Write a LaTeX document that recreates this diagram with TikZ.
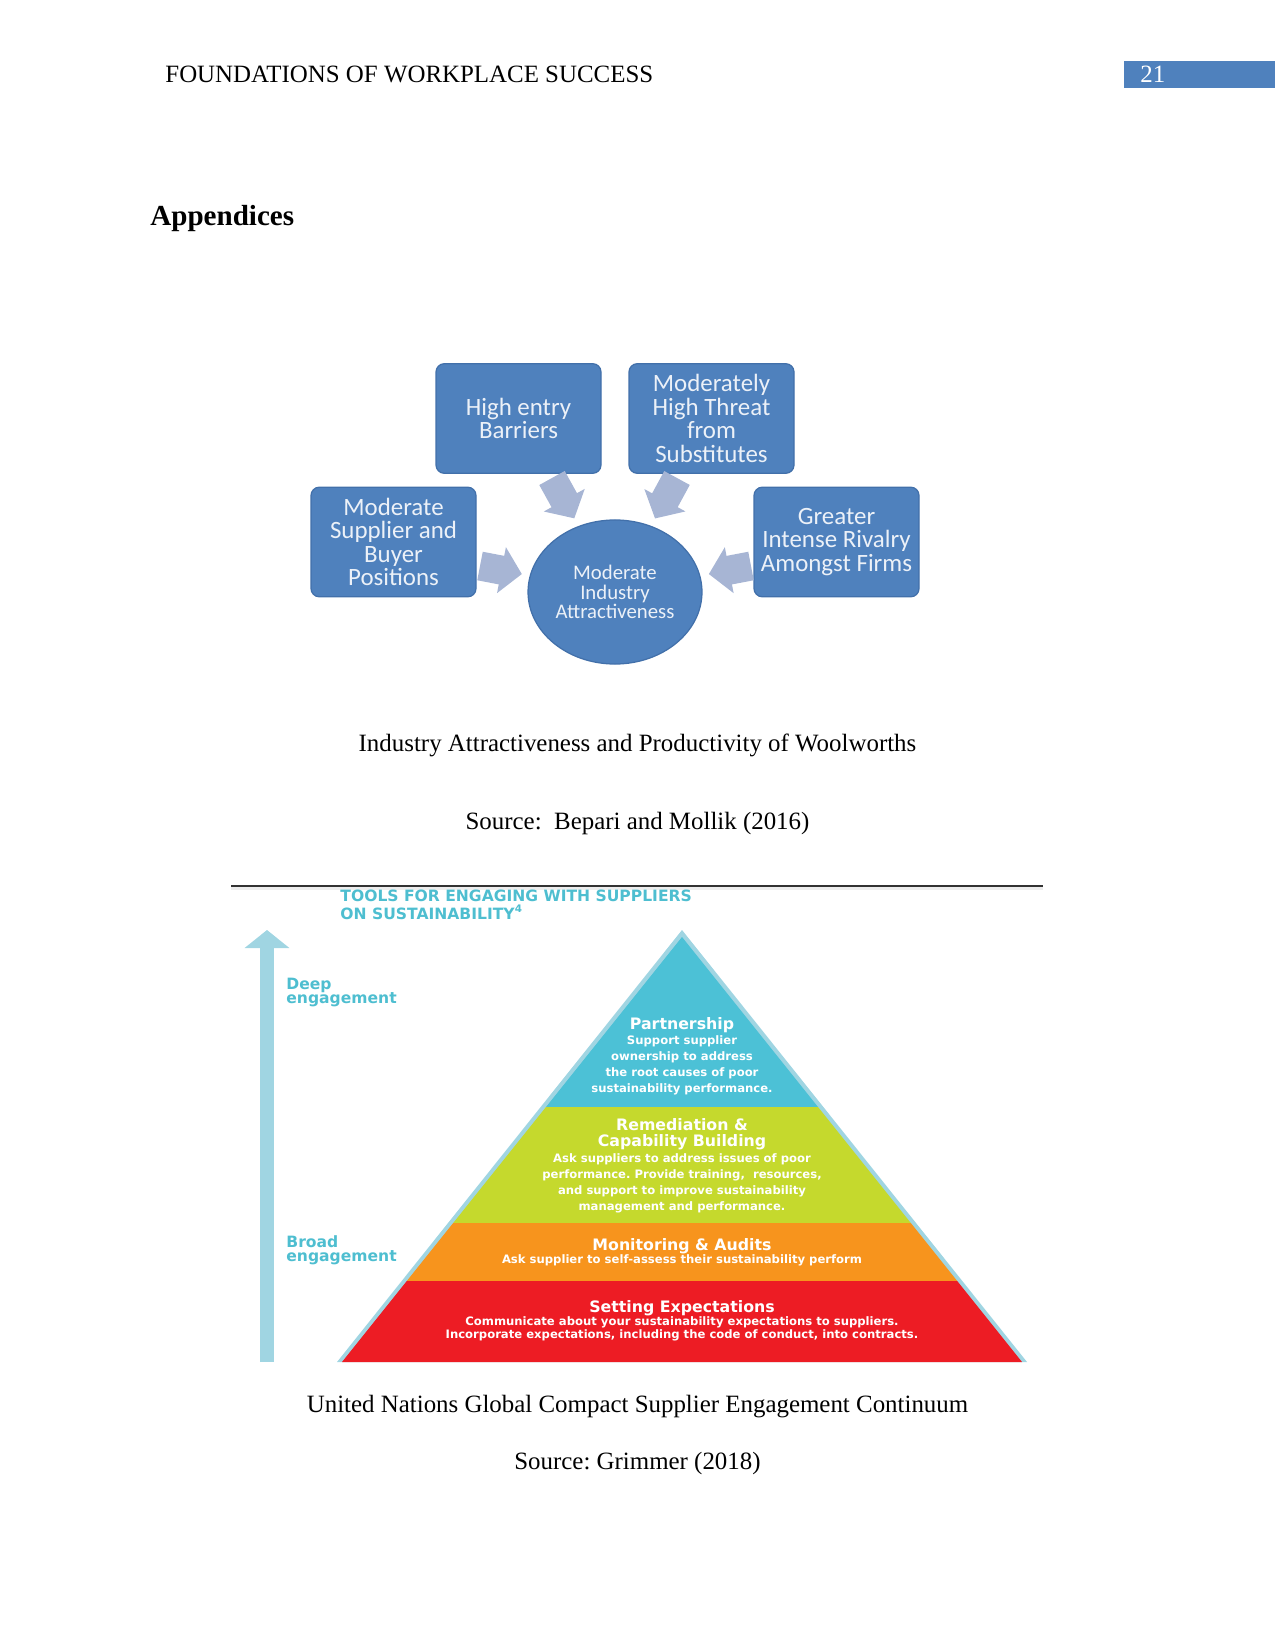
\documentclass[tikz,border=0pt]{standalone}
\usepackage{fontspec}
\setmainfont{Liberation Serif}
\newfontfamily\calfont{Carlito}
\newfontfamily\ungcfont{DejaVu Sans}
\usetikzlibrary{shapes.geometric,arrows.meta,calc}
\setlength{\lineskiplimit}{-5pt}
\frenchspacing

\definecolor{boxblue}{RGB}{79,129,189}
\definecolor{boxedge}{RGB}{66,112,170}
\definecolor{boxtext}{RGB}{236,241,248}
\definecolor{arrowgrey}{RGB}{167,181,212}
\definecolor{rimblue}{RGB}{160,213,226}
\definecolor{labelteal}{RGB}{78,190,208}
\definecolor{tierteal}{RGB}{76,193,214}
\definecolor{tiergreen}{RGB}{197,217,45}
\definecolor{tierorange}{RGB}{247,148,29}
\definecolor{tierred}{RGB}{237,28,36}
\definecolor{rulegrey}{RGB}{50,50,50}

\tikzset{
    forcebox/.style={rectangle, rounded corners=4pt, fill=boxblue, draw=boxedge, line width=0.6pt,
        minimum width=79.5pt, minimum height=52.8pt, inner sep=1pt, align=center, text=boxtext,
        font=\calfont\fontsize{12}{11.3}\selectfont},
    hubnode/.style={ellipse, fill=boxblue, draw=boxedge, line width=0.6pt,
        minimum width=83.8pt, minimum height=69.4pt, inner sep=0pt, align=center, text=boxtext,
        font=\calfont\fontsize{10}{9.4}\selectfont},
    fatlink/.style={draw=arrowgrey, line width=14pt, -{Triangle[width=22pt,length=10pt]}},
    caption/.style={anchor=base, inner sep=0pt, font=\fontsize{12}{14}\selectfont},
    tiertitle/.style={anchor=base, inner sep=0pt, align=center, text=white,
        font=\ungcfont\bfseries\fontsize{7.6}{7.7}\selectfont},
    tierbody/.style={anchor=base, inner sep=0pt, align=center, text=white,
        font=\ungcfont\bfseries\fontsize{5.6}{7.6}\selectfont},
    tealnote/.style={anchor=base west, inner sep=0pt, align=left, text=labelteal,
        font=\ungcfont\bfseries\fontsize{7.5}{6.3}\selectfont},
}

\begin{document}
\begin{tikzpicture}[x=0.4818pt,y=-0.4818pt]
    \useasboundingbox (0,0) rectangle (1275,1651);
    % running head
    \node[anchor=base west, inner sep=0pt, font=\fontsize{12}{14}\selectfont] (runhead) at (165,83) {FOUNDATIONS OF WORKPLACE SUCCESS};
    \fill[boxblue] (1124,61) rectangle (1275,88);
    \node[anchor=base west, inner sep=0pt, text=white, font=\fontsize{12}{14}\selectfont] (pageno) at (1140,83) {21};
    \node[anchor=base west, inner sep=0pt, font=\bfseries\fontsize{14}{16}\selectfont] (appx) at (150,226) {Appendices};

    % five forces
    \node[hubnode] (ind) at (615,592) {Moderate\\Industry\\Attractiveness};
    \node[forcebox] (entry) at (518.5,418.5) {High entry\\Barriers};
    \node[forcebox] (subst) at (711.5,418.5) {Moderately\\High Threat\\from\\Substitutes};
    \node[forcebox] (supbuy) at (393.5,542) {Moderate\\Supplier and\\Buyer\\Positions};
    \node[forcebox] (rival) at (836.5,542) {Greater\\Intense Rivalry\\Amongst Firms};
    \coordinate (tailA) at (552,478);
    \coordinate (tailB) at (677,478);
    \coordinate (tailC) at (480,566);
    \coordinate (tailD) at (751,566);
    \draw[fatlink] (tailA) -- ($(tailA)!0.354!(ind.center)$);
    \draw[fatlink] (tailB) -- ($(tailB)!0.355!(ind.center)$);
    \draw[fatlink] (tailC) -- ($(tailC)!0.31!(ind.center)$);
    \draw[fatlink] (tailD) -- ($(tailD)!0.31!(ind.center)$);
    \node[caption] (capA) at (637.5,751) {Industry Attractiveness and Productivity of Woolworths};
    \node[caption] (srcA) at (637.5,829) {Source:\ \ Bepari and Mollik (2016)};

    % supplier engagement pyramid
    \draw[line width=1.4pt, black!7] (231,888.5) -- (1043,888.5);
    \draw[line width=1.2pt, rulegrey] (231,886) -- (1043,886);
    % multi-line nodes sit on their last baseline
    \node[tealnote, font=\ungcfont\bfseries\fontsize{7.5}{8.2}\selectfont] (tools) at (340,919)
        {TOOLS FOR ENGAGING WITH SUPPLIERS\\ON SUSTAINABILITY\textsuperscript{\tiny 4}};
    \coordinate (broadbase) at (267,1362);
    \coordinate (deeptip) at (267,930);
    \draw[rimblue, line width=6.75pt, -{Triangle[width=21.2pt,length=8.7pt]}] (broadbase) -- (deeptip);
    \node[tealnote] (deep) at (286,1003) {Deep\\engagement};
    \node[tealnote] (broad) at (286,1261) {Broad\\engagement};
    \fill[rimblue] (682,930) -- (1027,1362) -- (337,1362) -- cycle;
    \begin{scope}
        \clip (682,937) -- (1022,1362) -- (342,1362) -- cycle;
        \foreach \ytop/\ybot/\col in {925/1107/tierteal, 1107/1223/tiergreen, 1223/1281/tierorange, 1281/1363/tierred}
            \fill[\col] (330,\ytop) rectangle (1035,\ybot);
    \end{scope}
    \node[tiertitle] (partner) at (682,1029) {Partnership};
    \node[tierbody] (partnertxt) at (682,1092) {Support supplier\\ownership to address\\the root causes of poor\\sustainability performance.};
    \node[tiertitle] (remedy) at (682,1146) {Remediation \&\\Capability Building};
    \node[tierbody] (remedytxt) at (682,1210) {Ask suppliers to address issues of poor\\performance. Provide training,\ \ resources,\\and support to improve sustainability\\management and performance.};
    \node[tiertitle] (audit) at (682,1250) {Monitoring \& Audits};
    \node[tierbody] (audittxt) at (682,1263) {Ask supplier to self-assess their sustainability perform};
    \node[tiertitle] (expect) at (682,1312) {Setting Expectations};
    \node[tierbody, font=\ungcfont\bfseries\fontsize{5.6}{5.9}\selectfont] (expecttxt) at (682,1338) {Communicate about your sustainability expectations to suppliers.\\Incorporate expectations, including the code of conduct, into contracts.};
    \node[caption] (capB) at (637.5,1412) {United Nations Global Compact Supplier Engagement Continuum};
    \node[caption] (srcB) at (637.5,1469) {Source: Grimmer (2018)};
\end{tikzpicture}
\end{document}
